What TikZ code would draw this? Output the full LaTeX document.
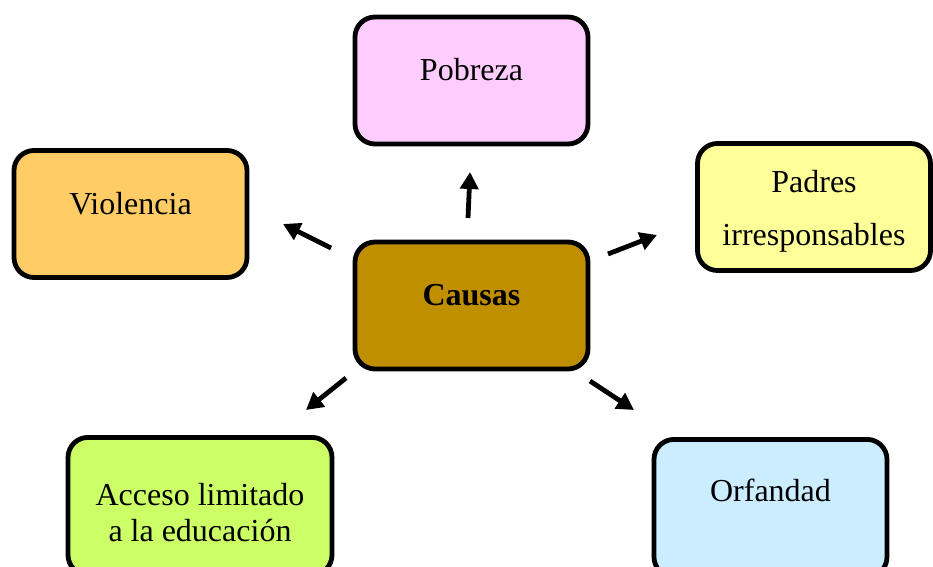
\documentclass[tikz,border=0pt]{standalone}
\usepackage{fontspec}
\setmainfont{Liberation Serif}
\usetikzlibrary{arrows.meta}
\definecolor{pobrezafill}{HTML}{FFCCFF}
\definecolor{violenciafill}{HTML}{FFCC66}
\definecolor{padresfill}{HTML}{FFFF99}
\definecolor{causasfill}{HTML}{BF8F00}
\definecolor{accesofill}{HTML}{CCFF66}
\definecolor{orfandadfill}{HTML}{CCECFF}
\begin{document}
\begin{tikzpicture}[x=0.5pt,y=-0.5pt,
    caja/.style={draw,line width=2.4pt,rounded corners=10pt,minimum width=116.5pt,minimum height=63.5pt,
      align=center,inner sep=0pt,text height=0pt,text depth=0pt,font=\fontsize{16}{19}\selectfont},
    flecha/.style={line width=2.4pt,-{Triangle[length=8.5pt,width=9pt]}}]
        \useasboundingbox (0,0) rectangle (933,567);
        \node[caja,fill=pobrezafill] (pobreza) at (471.5,80.5) {Pobreza};
        \node[caja,fill=violenciafill] (violencia) at (130.5,214) {Violencia};
        \node[caja,fill=padresfill,text height=39pt] (padres) at (814,207) {Padres\\[8pt]irresponsables};
        \node[caja,fill=causasfill,font=\fontsize{16}{19}\selectfont\bfseries] (causas) at (471.5,305.5) {Causas};
        \node[caja,fill=accesofill,minimum width=132pt,minimum height=68.8pt,text height=34.8pt] (acceso) at (200,506.2) {Acceso limitado\\[-1pt]a la educación};
        \node[caja,fill=orfandadfill,minimum height=68.8pt,text depth=7pt] (orfandad) at (770.5,508.2) {Orfandad};
        % flechas
        \coordinate (a1) at (468,218); \coordinate (b1) at (470,172);
        \coordinate (a2) at (331,248); \coordinate (b2) at (283,224);
        \coordinate (a3) at (608,254); \coordinate (b3) at (657,235);
        \coordinate (a4) at (346,378); \coordinate (b4) at (306,410);
        \coordinate (a5) at (590,381); \coordinate (b5) at (634,410);
        \draw[flecha] (a1) -- (b1);
        \draw[flecha] (a2) -- (b2);
        \draw[flecha] (a3) -- (b3);
        \draw[flecha] (a4) -- (b4);
        \draw[flecha] (a5) -- (b5);
\end{tikzpicture}
\end{document}
